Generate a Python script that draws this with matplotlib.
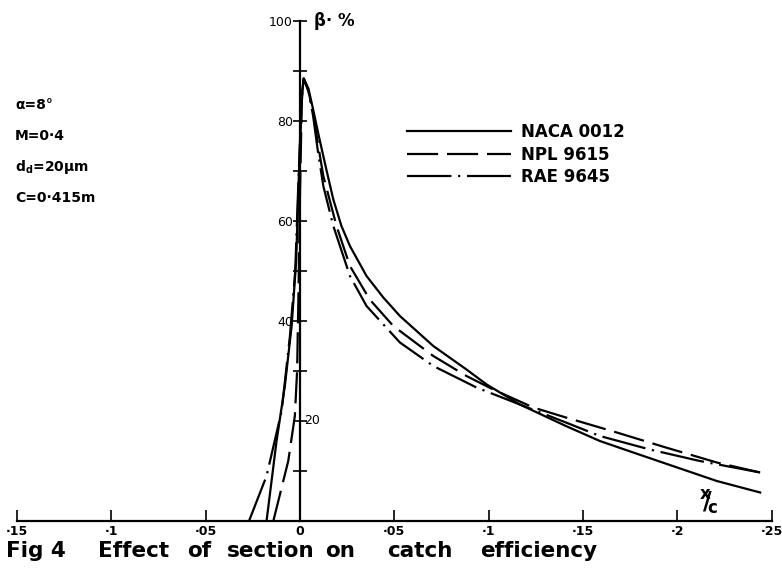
import numpy as np
import matplotlib
matplotlib.use("Agg")
import matplotlib.pyplot as plt

plt.rcParams['mathtext.fontset'] = 'dejavusans'

#===Data===#
naca_x = [-0.0177, -0.0124, -0.008, -0.0044, -0.002, -0.0005, 0.001, 0.002,
          0.0045, 0.007, 0.010, 0.014, 0.0177, 0.022, 0.0265, 0.0353, 0.0442, 0.053, 0.0707, 0.0883,
          0.099, 0.1166, 0.141, 0.159, 0.1767, 0.2, 0.221, 0.244]
naca_b = [0, 16, 27, 39, 52, 70, 85, 88.5,
          86.5, 82.3, 77, 70.3, 64.3, 59, 55, 49, 44.7, 41, 35, 30.3,
          27.3, 23.3, 19, 16, 13.7, 10.7, 8, 5.7]

npl_x = [-0.0141, -0.0062, -0.0027, -0.0015, -0.0008, 0.0, 0.001, 0.002,
         0.0045, 0.007, 0.0095, 0.0124, 0.0194, 0.0265, 0.037, 0.0495, 0.0707, 0.0883, 0.1025,
         0.1237, 0.141, 0.168, 0.194, 0.221, 0.244]
npl_b = [0, 12, 21, 30, 45, 65, 84, 88.5,
         86, 81.7, 75.5, 69, 59, 51, 44.3, 39, 33, 29, 26.3,
         22.7, 20.7, 17.7, 14.7, 11.7, 9.7]

rae_x = [-0.027, -0.0177, -0.0097, -0.0053, -0.0025, -0.0008, 0.001, 0.002,
         0.0045, 0.007, 0.0095, 0.0124, 0.0177, 0.0265, 0.0353, 0.053, 0.0707, 0.0936, 0.1166,
         0.141, 0.159, 0.1855, 0.212, 0.244]
rae_b = [0, 9, 22, 37, 50, 68, 85, 88.5,
         86, 81, 74, 67, 59, 49, 43, 35.7, 31, 26.7, 23.3,
         19.7, 17, 14.3, 12, 9.7]

xticks = [-0.15, -0.1, -0.05, 0, 0.05, 0.1, 0.15, 0.2, 0.25]
xticklabels = ['·15', '·1', '·05', '0', '·05', '·1', '·15', '·2', '·25']
yticks = [20, 40, 60, 80, 100]
yticklabels = ['', '40', '60', '80', '100']

params = ['α=8°', 'M=0·4', r'd$_\mathbf{d}$=20μm', 'C=0·415m']
caption_words = ['Fig 4', 'Effect', 'of', 'section', 'on', 'catch', 'efficiency']
caption_px = [6, 98, 187, 227, 325, 387, 480]

#===Plot===#
fig = plt.figure(figsize=(7.82, 5.77), dpi=100)
ax = fig.add_axes([17/782, 1 - 521/577, 754.5/782, 500/577])

lw = 1.6
ax.plot(naca_x, naca_b, color='black', lw=lw, label='NACA 0012')
ax.plot(npl_x, npl_b, color='black', lw=lw, dashes=(14, 4), label='NPL 9615')
ax.plot(rae_x, rae_b, color='black', lw=lw, dashes=(20, 3, 1, 3), label='RAE 9645')

ax.set_xlim(-0.15, 0.25)
ax.set_ylim(0, 100)

ax.spines['left'].set_position(('data', 0))
ax.spines['bottom'].set_position(('data', 0))
ax.spines['top'].set_visible(False)
ax.spines['right'].set_visible(False)
ax.spines['left'].set_linewidth(1.6)
ax.spines['bottom'].set_linewidth(1.6)

ax.set_xticks(xticks)
ax.set_xticklabels(xticklabels, fontsize=9, fontweight='bold')
ax.tick_params(axis='x', direction='in', length=8, width=1.2, pad=3)
ax.set_yticks(yticks)
ax.set_yticklabels(yticklabels, fontsize=9)
ax.set_yticks([10, 30, 50, 70, 90], minor=True)
ax.tick_params(axis='y', which='both', direction='inout', length=10, width=1.2, pad=0)
ax.text(0.002, 20, '20', fontsize=9, va='center', ha='left')

ax.text(0.0075, 100, 'β· %', fontsize=12, fontweight='bold', va='center', ha='left')
ax.text(0.217, 3.6, r'$\mathbf{{}^{x}\!\!/\!{}_{c}}$', fontsize=17, va='center', ha='center')

ax.legend(loc='upper left', bbox_to_anchor=(399/782, 1 - 115/577),
          bbox_transform=fig.transFigure, frameon=False, borderpad=0,
          handlelength=6.2, handletextpad=0.6, labelspacing=0.25,
          prop={'weight': 'bold', 'size': 12})

for i, s in enumerate(params):
    fig.text(15/782, 1 - (105 + i*31)/577, s, fontsize=10, fontweight='bold', va='center')

for w, px in zip(caption_words, caption_px):
    fig.text(px/782, 1 - 551/577, w, fontsize=15.5, fontweight='bold', va='center')

fig.savefig('out.png', dpi=100, facecolor='white')
